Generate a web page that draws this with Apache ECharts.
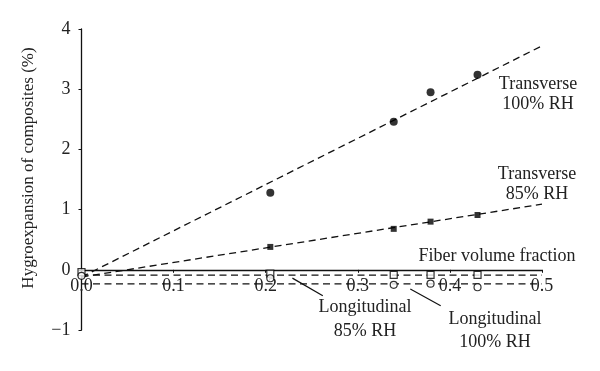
<!DOCTYPE html>
<html>
<head>
<meta charset="utf-8">
<script src="https://cdn.jsdelivr.net/npm/echarts@6/dist/echarts.min.js"></script>
<style>html,body{margin:0;padding:0;background:#fff;}#c{width:600px;height:371px;}</style>
</head>
<body>
<div id="c"></div>
<script>
// Measured data (fiber volume fraction vs hygroexpansion %)
const fiberFrac = [0, 0.205, 0.339, 0.379, 0.43];
const trans100 = [null, 1.28, 2.46, 2.95, 3.24];
const trans85 = [null, 0.38, 0.68, 0.80, 0.91];
const long85 = [-0.04, -0.065, -0.085, -0.085, -0.085];
const long100 = [-0.10, -0.14, -0.25, -0.23, -0.29];
// Trend lines (endpoints)
const trendX = [0, 0.5];
const trendT100 = [-0.12, 3.72];
const trendT85 = [-0.12, 1.09];
const trendL85 = [-0.09, -0.09];
const trendL100 = [-0.235, -0.235];
// Leader lines for labels
const leader85X = [0.229, 0.262];
const leader85Y = [-0.138, -0.432];
const leader100X = [0.357, 0.39];
const leader100Y = [-0.32, -0.598];
// Axis ticks
const xTicks = [0, 0.1, 0.2, 0.3, 0.4, 0.5];
const yTicks = [-1, 0, 1, 2, 3, 4];

const FONT = '"Liberation Serif", "Times New Roman", serif';
const pairs = (xs, ys) => xs.map((x, i) => [x, ys[i]]).filter(p => p[1] !== null);

const GRID = { left: 81.5, right: 58, top: 29, bottom: 41 };
const plotH = 371 - GRID.top - GRID.bottom;
const yMin = yTicks[0], yMax = yTicks[yTicks.length - 1];
// distance of the zero line above the grid bottom, used to lift the x axis onto y = 0
const zeroLift = plotH * (0 - yMin) / (yMax - yMin);

const chart = echarts.init(document.getElementById('c'));
const dashed = { color: '#111', width: 1.3, type: [7, 4.5] };

function trend(ys) {
  return { type: 'line', data: pairs(trendX, ys), symbol: 'none', lineStyle: dashed, silent: true, z: 2 };
}

chart.setOption({
  animation: false,
  backgroundColor: '#fff',
  grid: Object.assign({ containLabel: false }, GRID),
  xAxis: {
    type: 'value', min: xTicks[0], max: xTicks[xTicks.length - 1], interval: 0.1,
    position: 'bottom', offset: -zeroLift,
    axisLine: { onZero: false, lineStyle: { color: '#111', width: 1.3 } },
    axisTick: { show: true, inside: false, length: 3, lineStyle: { color: '#111' } },
    axisLabel: { color: '#222', fontFamily: FONT, fontSize: 18, margin: 7, formatter: v => v.toFixed(1) },
    splitLine: { show: false }
  },
  yAxis: {
    type: 'value', min: yMin, max: yMax, interval: 1,
    axisLine: { show: true, onZero: false, lineStyle: { color: '#111', width: 1.3 } },
    axisTick: { show: true, length: 3, lineStyle: { color: '#111' } },
    axisLabel: { color: '#222', fontFamily: FONT, fontSize: 18, margin: 11, formatter: v => v < 0 ? '\u2212' + Math.abs(v) : String(v) },
    splitLine: { show: false }
  },
  graphic: [
    { type: 'text', x: 29, y: 168, rotation: Math.PI / 2,
      style: { text: 'Hygroexpansion of composites (%)', fontFamily: FONT, fontSize: 17, fill: '#222', align: 'center', verticalAlign: 'middle' } },
    { type: 'text', x: 538, y: 94,
      style: { text: 'Transverse\n100% RH', fontFamily: FONT, fontSize: 18, lineHeight: 20, fill: '#222', align: 'center', verticalAlign: 'middle' } },
    { type: 'text', x: 537, y: 184.5,
      style: { text: 'Transverse\n85% RH', fontFamily: FONT, fontSize: 18, lineHeight: 20, fill: '#222', align: 'center', verticalAlign: 'middle' } },
    { type: 'text', x: 497, y: 256.5,
      style: { text: 'Fiber volume fraction', fontFamily: FONT, fontSize: 18, fill: '#222', align: 'center', verticalAlign: 'middle' } },
    { type: 'text', x: 365, y: 319.5,
      style: { text: 'Longitudinal\n85% RH', fontFamily: FONT, fontSize: 18, lineHeight: 24.5, fill: '#222', align: 'center', verticalAlign: 'middle' } },
    { type: 'text', x: 495, y: 331,
      style: { text: 'Longitudinal\n100% RH', fontFamily: FONT, fontSize: 18, lineHeight: 23.5, fill: '#222', align: 'center', verticalAlign: 'middle' } }
  ],
  series: [
    trend(trendT100),
    trend(trendT85),
    trend(trendL85),
    trend(trendL100),
    { type: 'line', data: pairs(leader85X, leader85Y), symbol: 'none', lineStyle: { color: '#111', width: 1.2 }, silent: true, z: 2 },
    { type: 'line', data: pairs(leader100X, leader100Y), symbol: 'none', lineStyle: { color: '#111', width: 1.2 }, silent: true, z: 2 },
    { type: 'scatter', data: pairs(fiberFrac, trans100), symbol: 'circle', symbolSize: 8, itemStyle: { color: '#000' }, z: 3 },
    { type: 'scatter', data: pairs(fiberFrac, trans85), symbol: 'rect', symbolSize: 6, itemStyle: { color: '#000' }, z: 3 },
    { type: 'scatter', data: pairs(fiberFrac, long85), symbol: 'rect', symbolSize: 7, itemStyle: { color: '#fff', borderColor: '#000', borderWidth: 1.2 }, z: 3 },
    { type: 'scatter', data: pairs(fiberFrac, long100), symbol: 'circle', symbolSize: 7, itemStyle: { color: '#fff', borderColor: '#000', borderWidth: 1.2 }, z: 4 }
  ]
});
</script>
</body>
</html>
